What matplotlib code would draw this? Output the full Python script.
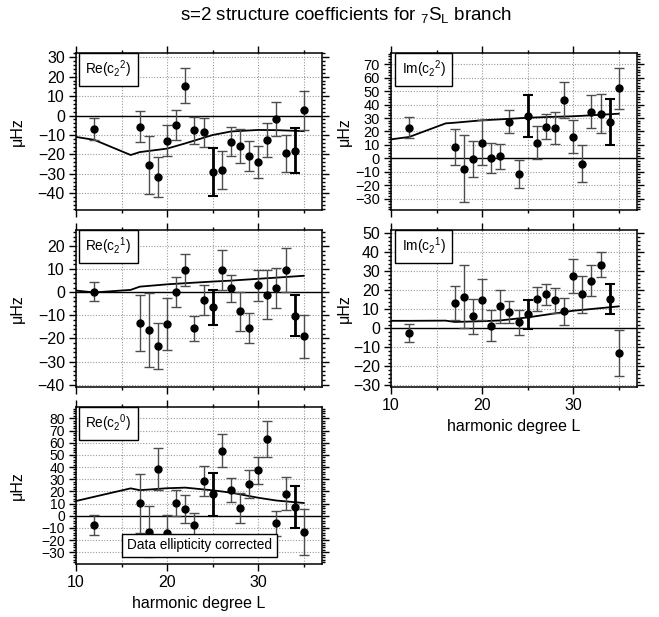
import matplotlib
matplotlib.use("Agg")
import matplotlib.pyplot as plt
from matplotlib.ticker import MultipleLocator

plt.rcParams['font.family'] = ['Liberation Sans', 'DejaVu Sans']
plt.rcParams['mathtext.fontset'] = 'custom'
plt.rcParams['mathtext.rm'] = 'Liberation Sans'
plt.rcParams['mathtext.default'] = 'regular'

# (1) Data: harmonic degree of each measured mode
L = [12, 17, 18, 19, 20, 21, 22, 23, 24, 25, 26, 27, 28, 29, 30, 31, 32, 33, 34, 35]
thick_L = [25, 34]  # modes drawn with heavy error bars

re22 = [-7.0, -5.8, -25.4, -31.6, -13.0, -4.8, 15.4, -7.5, -8.6, -29.0,
        -28.0, -13.4, -15.6, -20.8, -23.8, -12.5, -1.9, -19.4, -18.2, 2.7]
re22_err = [5.5, 8.0, 15.0, 10.3, 8.0, 7.8, 9.0, 7.0, 7.6, 12.3,
            9.8, 7.4, 8.9, 7.5, 8.3, 8.8, 8.7, 9.4, 11.6, 10.0]

im22 = [22.8, 8.7, -7.9, -0.7, 11.7, 0.2, 1.5, 27.3, -11.7, 31.5,
        11.7, 23.6, 22.3, 43.4, 16.1, -4.0, 34.7, 33.0, 26.8, 52.1]
im22_err = [8.0, 13.4, 25.0, 13.5, 16.5, 10.9, 9.4, 8.7, 10.7, 15.5,
            12.4, 9.4, 11.9, 13.4, 12.2, 13.9, 12.3, 14.5, 17.0, 15.3]

re21 = [0.3, -13.3, -16.2, -23.2, -13.6, 0.0, 9.6, -15.5, -3.5, -6.5,
        9.6, 1.6, -8.3, -15.4, 2.9, -1.2, 1.7, 9.6, -10.1, -19.1]
re21_err = [4.2, 12.2, 16.0, 10.0, 11.2, 6.4, 6.8, 5.4, 6.5, 7.6,
            8.6, 5.7, 8.3, 6.4, 6.7, 10.6, 8.6, 9.4, 8.8, 9.4]

im21 = [-2.3, 13.5, 16.7, 6.3, 15.1, 1.4, 11.6, 8.6, 3.2, 7.4,
        15.4, 17.9, 14.7, 8.9, 27.5, 17.9, 25.1, 33.5, 15.6, -12.8]
im21_err = [4.7, 8.9, 16.4, 9.3, 10.9, 8.2, 8.7, 5.7, 6.5, 7.8,
            6.2, 5.5, 6.5, 7.2, 9.0, 9.6, 8.1, 6.7, 7.9, 12.1]

re20 = [-7.7, 10.2, -13.2, 38.7, -14.3, 10.2, 5.5, -7.7, 28.3, 17.6,
        53.3, 20.9, 6.0, 26.1, 37.4, 63.2, -6.3, 18.1, 6.9, -13.2]
re20_err = [8.0, 24.3, 21.0, 17.2, 14.6, 10.8, 11.8, 10.0, 12.2, 17.9,
            13.5, 9.9, 12.3, 11.5, 11.0, 15.0, 10.4, 13.7, 17.2, 18.8]

# (2) Model predictions (solid line)
model_L = [10, 12, 16, 17, 20, 22, 25, 27, 30, 32, 35]
model_re22 = [-11.0, -12.5, -20.3, -18.8, -17.0, -14.3, -10.0, -8.2, -7.4, -7.5, -8.0]
model_im22 = [14.1, 15.9, 26.0, 26.5, 28.3, 29.0, 30.2, 30.7, 31.3, 32.0, 33.2]
model_re21 = [0.7, -0.1, 1.0, 2.4, 3.4, 3.9, 4.6, 5.0, 5.8, 6.3, 7.1]
model_im21 = [4.0, 4.0, 4.1, 3.4, 3.8, 4.2, 5.8, 7.2, 9.3, 10.2, 11.6]
model_re20 = [12.1, 15.6, 22.5, 21.0, 22.6, 23.1, 20.9, 19.0, 14.8, 12.5, 10.5]

# (3) Panel layout
col_x = [76 / 659, 391 / 659]
row_y = [(617 - 210) / 617, (617 - 387) / 617, (617 - 564) / 617]
w, h = 246 / 659, 157 / 617

# name, values, errors, model, y-range, column, row, x labels?, tick label size
panels = [
    (r"Re(c$_2$$^2$)", re22, re22_err, model_re22, (-48.6, 32.2), 0, 0, False, 11.5),
    (r"Im(c$_2$$^2$)", im22, im22_err, model_im22, (-38.5, 78.4), 1, 0, False, 10.5),
    (r"Re(c$_2$$^1$)", re21, re21_err, model_re21, (-41.0, 26.9), 0, 1, False, 11.5),
    (r"Im(c$_2$$^1$)", im21, im21_err, model_im21, (-30.8, 51.75), 1, 1, True, 11.5),
    (r"Re(c$_2$$^0$)", re20, re20_err, model_re20, (-39.6, 89.3), 0, 2, True, 10),
]

fig = plt.figure(figsize=(6.59, 6.17), dpi=100)

for name, vals, errs, model, ylim, col, row, show_x, ysize in panels:
    ax = fig.add_axes([col_x[col], row_y[row], w, h])
    ax.set_xlim(10, 37)
    ax.set_ylim(*ylim)

    ax.xaxis.set_major_locator(MultipleLocator(10))
    ax.xaxis.set_minor_locator(MultipleLocator(5))
    ax.yaxis.set_major_locator(MultipleLocator(10))
    ax.yaxis.set_minor_locator(MultipleLocator(2))
    ax.tick_params(which='both', direction='out', top=True, right=True, width=1)
    ax.tick_params(axis='x', labelsize=11.5)
    ax.tick_params(axis='y', labelsize=ysize)
    ax.tick_params(which='major', length=5, pad=3)
    ax.tick_params(which='minor', length=2.5)
    ax.tick_params(axis='x', labelbottom=show_x)
    for sp in ax.spines.values():
        sp.set_linewidth(1.1)

    ax.grid(which='major', axis='y', ls=(0, (1, 1.5)), color='#999999', lw=0.8)
    ax.grid(which='both', axis='x', ls=(0, (1, 1.5)), color='#999999', lw=0.8)
    ax.axhline(0, color='k', lw=1, zorder=2)

    # model curve
    ax.plot(model_L, model, color='k', lw=1.3, zorder=3)

    # data with error bars
    for l, v, e in zip(L, vals, errs):
        if l in thick_L:
            ax.errorbar(l, v, yerr=e, fmt='none', ecolor='k', elinewidth=2,
                        capsize=3.6, capthick=1.5, zorder=3)
        else:
            ax.errorbar(l, v, yerr=e, fmt='none', ecolor='#4d4d4d', elinewidth=1,
                        capsize=3.6, capthick=1, zorder=3)
    ax.plot(L, vals, 'o', color='k', ms=5, zorder=4)

    ax.text(0.132, 0.895, name, transform=ax.transAxes, ha='center', va='center',
            fontsize=9.8, zorder=6,
            bbox=dict(boxstyle='square,pad=0.45', fc='white', ec='k', lw=1))

    ax.set_ylabel("\u03bcHz", fontsize=11.5)
    ax.yaxis.set_label_coords(-0.207 if col == 0 else -0.16, 0.5)

    if show_x:
        ax.set_xlabel("harmonic degree L", fontsize=11.5, labelpad=4)

    if name.startswith("Re(c$_2$$^0"):
        ax.text(0.503, 0.118, "Data ellipticity corrected", transform=ax.transAxes,
                ha='center', va='center', fontsize=9.8, zorder=6,
                bbox=dict(boxstyle='square,pad=0.35', fc='white', ec='k', lw=1))

fig.text(0.525, 0.976, r"s=2 structure coefficients for ${}_7$S$_L$ branch",
         ha='center', va='center', fontsize=13.5)

fig.savefig("out.png", dpi=100)
